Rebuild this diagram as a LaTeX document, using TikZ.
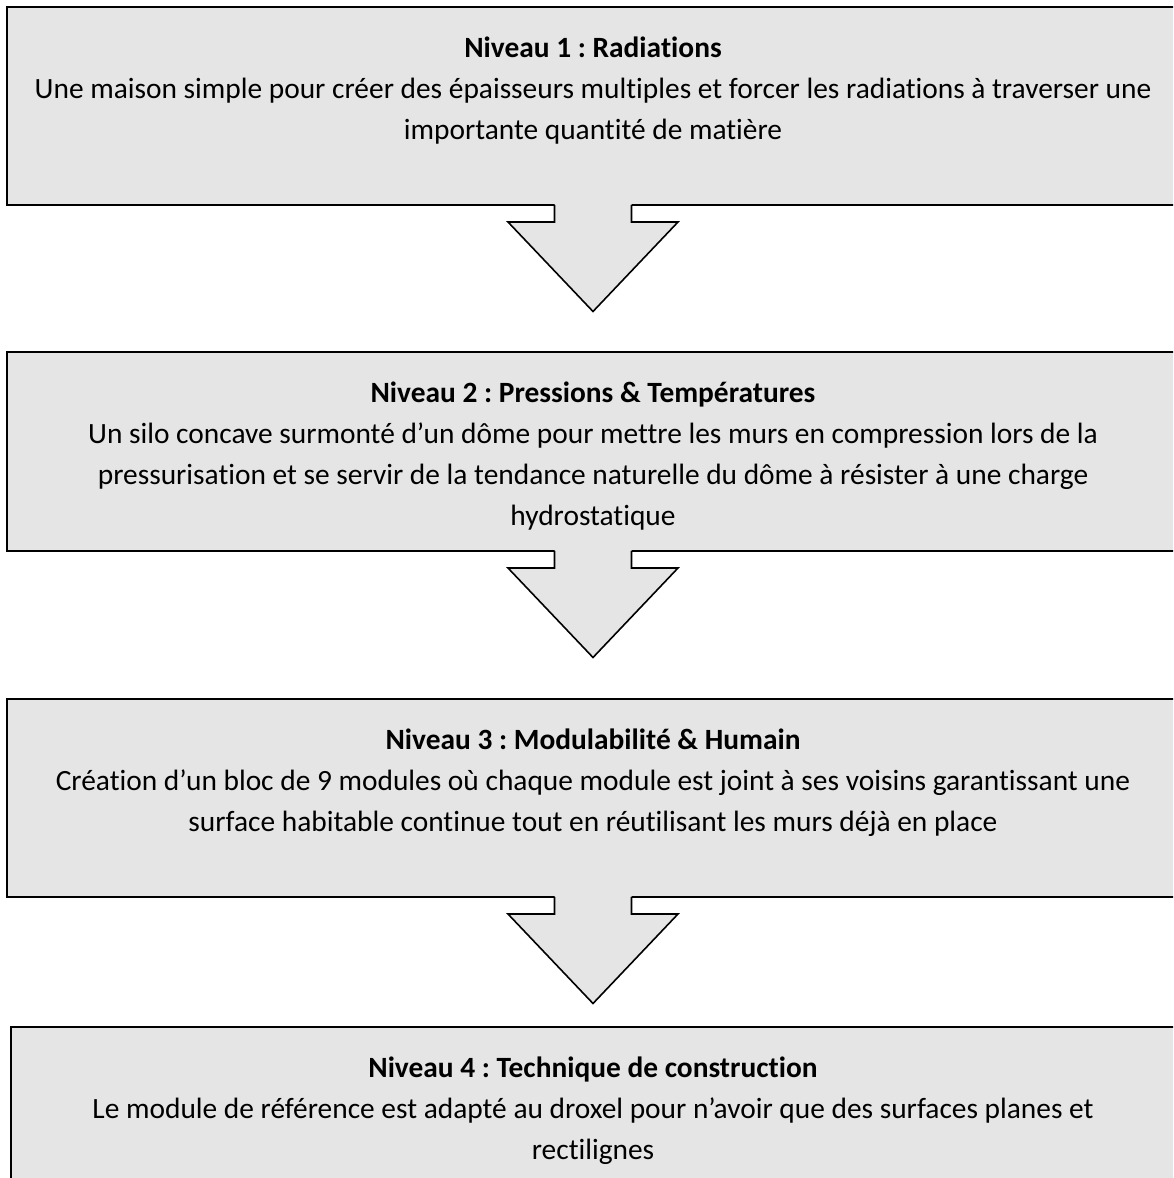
\documentclass[tikz,border=0pt]{standalone}
\usepackage{fontspec}
\setmainfont{Carlito}[Ligatures=NoCommon]
\frenchspacing
\definecolor{boxfill}{RGB}{229,229,229}
\tikzset{
  levelbox/.style={draw=black, fill=boxfill, line width=2.4pt, inner sep=0pt, outer sep=0pt},
  txt/.style={anchor=base, inner sep=0pt, font=\fontsize{29.4}{35}\selectfont},
  ttl/.style={txt, font=\fontsize{29.4}{35}\selectfont\bfseries},
  arrowline/.style={draw=black, line width=1.6pt, line join=miter},
  pics/downarrow/.style={code={
    \fill[boxfill] (-38.5,3) -- (-38.5,-17) -- (-85,-17) -- (0,-106.5) -- (85,-17) -- (38.5,-17) -- (38.5,3) -- cycle;
    \draw[arrowline] (-38.5,0) -- (-38.5,-17) -- (-85,-17) -- (0,-106.5) -- (85,-17) -- (38.5,-17) -- (38.5,0);
  }}
}
\begin{document}
\begin{tikzpicture}[x=1pt,y=1pt]
\useasboundingbox (0,0) rectangle (1173,1178);
\begin{scope}
\clip (0,0) rectangle (1173,1178);
% boxes
\node[levelbox, minimum width=1172pt, minimum height=198pt] (b1) at (593,1072) {};
\node[levelbox, minimum width=1172pt, minimum height=199pt] (b2) at (593,726.5) {};
\node[levelbox, minimum width=1172pt, minimum height=198pt] (b3) at (593,380) {};
\node[levelbox, minimum width=1164pt, minimum height=198pt] (b4) at (593,52) {};
% arrows
\pic at (b1.south) {downarrow};
\pic at (b2.south) {downarrow};
\pic at (b3.south) {downarrow};
\end{scope}
% texts box 1
\node[ttl] (t1a) at (593,1120) {Niveau 1 : Radiations};
\node[txt] (t1b) at (593,1079) {Une maison simple pour créer des épaisseurs multiples et forcer les radiations à traverser une};
\node[txt] (t1c) at (593,1038) {importante quantité de matière};
% texts box 2
\node[ttl] (t2a) at (593,775) {Niveau 2 : Pressions \& Températures};
\node[txt] (t2b) at (593,734) {Un silo concave surmonté d’un dôme pour mettre les murs en compression lors de la};
\node[txt] (t2c) at (593,693) {pressurisation et se servir de la tendance naturelle du dôme à résister à une charge};
\node[txt] (t2d) at (593,652) {hydrostatique};
% texts box 3
\node[ttl] (t3a) at (593,428) {Niveau 3 : Modulabilité \& Humain};
\node[txt] (t3b) at (593,387) {Création d’un bloc de 9 modules où chaque module est joint à ses voisins garantissant une};
\node[txt] (t3c) at (593,346) {surface habitable continue tout en réutilisant les murs déjà en place};
% texts box 4
\node[ttl] (t4a) at (593,100) {Niveau 4 : Technique de construction};
\node[txt] (t4b) at (593,59) {Le module de référence est adapté au droxel pour n’avoir que des surfaces planes et};
\node[txt] (t4c) at (593,18) {rectilignes};
\end{tikzpicture}
\end{document}
